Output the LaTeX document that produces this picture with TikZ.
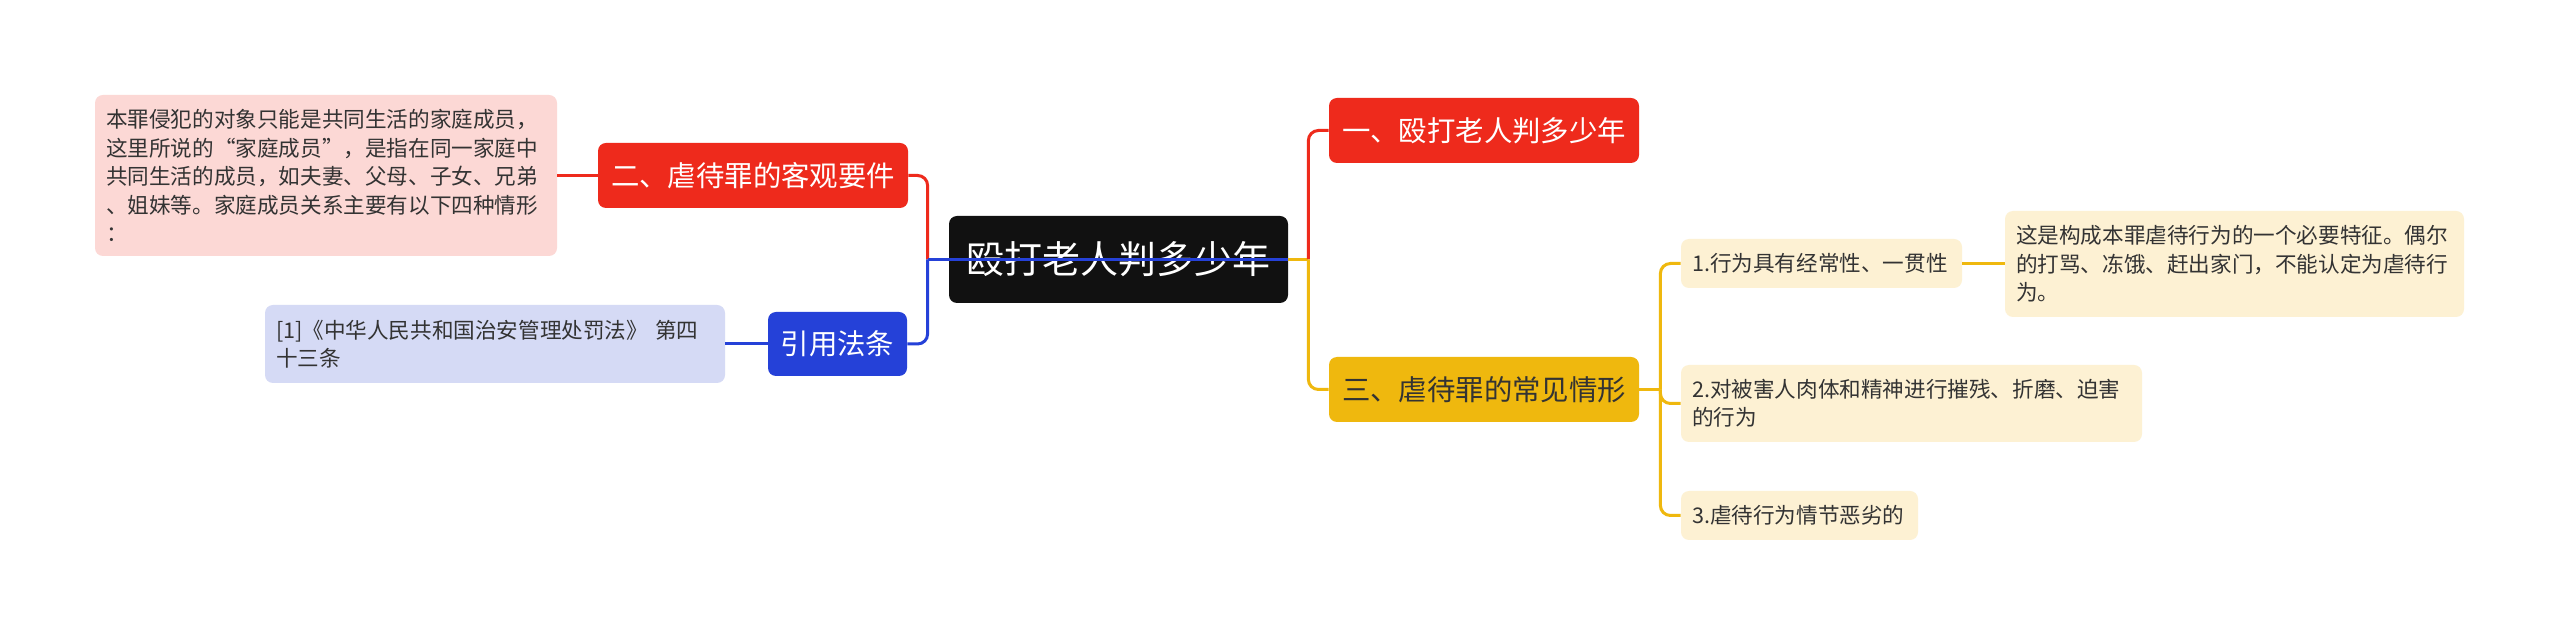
\documentclass[tikz,border=0pt]{standalone}
\usepackage{fontspec}
\setmainfont{Noto Sans CJK SC}
\usetikzlibrary{calc}
\definecolor{redbr}{HTML}{EE2A1C}
\definecolor{pinkleaf}{HTML}{FCD8D5}
\definecolor{bluebr}{HTML}{2541D8}
\definecolor{blueleaf}{HTML}{D5DAF5}
\definecolor{yellowbr}{HTML}{EFB80E}
\definecolor{creamleaf}{HTML}{FDF1D3}
\definecolor{rootfill}{HTML}{111111}
\definecolor{notetext}{HTML}{333333}
\tikzstyle{box}=[rounded corners=4pt,inner sep=0pt,align=center]
\tikzstyle{topic}=[box,minimum width=155pt,minimum height=32.5pt,font=\fontsize{14.2}{17}\selectfont]
\tikzstyle{note}=[box,align=left,inner xsep=5.5pt,text=notetext,font=\fontsize{10.8}{14.2}\selectfont]
\tikzstyle{link}=[line width=1.5pt]
\newcommand{\elbow}[3]{% Syntax: {colour}{junction}{target}
  \draw[link,#1,rounded corners=5pt] (#2) |- (#3);
}

\begin{document}
\begin{tikzpicture}[x=1pt,y=-1pt]
	\fill[white] (0,0) rectangle (1280,317.5);
	\useasboundingbox (0,0) rectangle (1280,317.5);
	% centre
	\node[box,fill=rootfill,text=white,minimum width=169.5pt,minimum height=43.5pt,font=\fontsize{19}{22}\selectfont] (root) at (559.25,129.75) {殴打老人判多少年};
	% left side
	\node[topic,fill=redbr,text=white] (two) at (376.5,87.75) {二、虐待罪的客观要件};
	\node[note,fill=pinkleaf,text width=220pt,minimum height=80.5pt] (members) at (163,87.75) {本罪侵犯的对象只能是共同生活的家庭成员，\\这里所说的“家庭成员”，是指在同一家庭中\\共同生活的成员，如夫妻、父母、子女、兄弟\\、姐妹等。家庭成员关系主要有以下四种情形\\：};
	\node[topic,fill=bluebr,text=white,minimum width=69.5pt,minimum height=32pt] (law) at (418.75,172) {引用法条};
	\node[note,fill=blueleaf,text width=219pt,minimum height=39pt] (cite) at (247.5,172) {[1]《中华人民共和国治安管理处罚法》 第四\\十三条};
	% right side
	\node[topic,fill=redbr,text=white] (one) at (742,65.25) {一、殴打老人判多少年};
	\node[topic,fill=yellowbr,text=notetext] (three) at (742,194.75) {三、虐待罪的常见情形};
	\node[note,fill=creamleaf,text width=129.5pt,minimum height=24.5pt] (itemA) at (910.75,131.75) {1.行为具有经常性、一贯性};
	\node[note,fill=creamleaf,text width=218.5pt,minimum height=53pt] (detail) at (1117.25,132) {这是构成本罪虐待行为的一个必要特征。偶尔\\的打骂、冻饿、赶出家门，不能认定为虐待行\\为。};
	\node[note,fill=creamleaf,text width=219.5pt,minimum height=38.5pt] (itemB) at (955.75,201.75) {2.对被害人肉体和精神进行摧残、折磨、迫害\\的行为};
	\node[note,fill=creamleaf,text width=107.5pt,minimum height=24.5pt] (itemC) at (899.75,257.75) {3.虐待行为情节恶劣的};

	% connectors, left
	\coordinate (jL) at ($(root.west)+(-10.5pt,0)$);
	\elbow{redbr}{jL}{two.east}
	\elbow{bluebr}{jL}{law.east}
	\draw[link,redbr] (two.west) -- (members.east |- two.west);
	\draw[link,bluebr] (law.west) -- (cite.east |- law.west);
	\draw[link,bluebr] (jL) -- (root.east);
	% connectors, right
	\coordinate (jR) at ($(root.east)+(10pt,0)$);
	\draw[link,yellowbr] (root.east) -- (jR);
	\elbow{redbr}{jR}{one.west}
	\elbow{yellowbr}{jR}{three.west}
	\coordinate (jY) at ($(three.east)+(10.5pt,0)$);
	\draw[link,yellowbr] (three.east) -- (jY);
	\foreach \n in {itemA,itemB,itemC}
		\elbow{yellowbr}{jY}{\n.west}
	\draw[link,yellowbr] (itemA.east) -- (detail.west |- itemA.east);
\end{tikzpicture}
\end{document}
